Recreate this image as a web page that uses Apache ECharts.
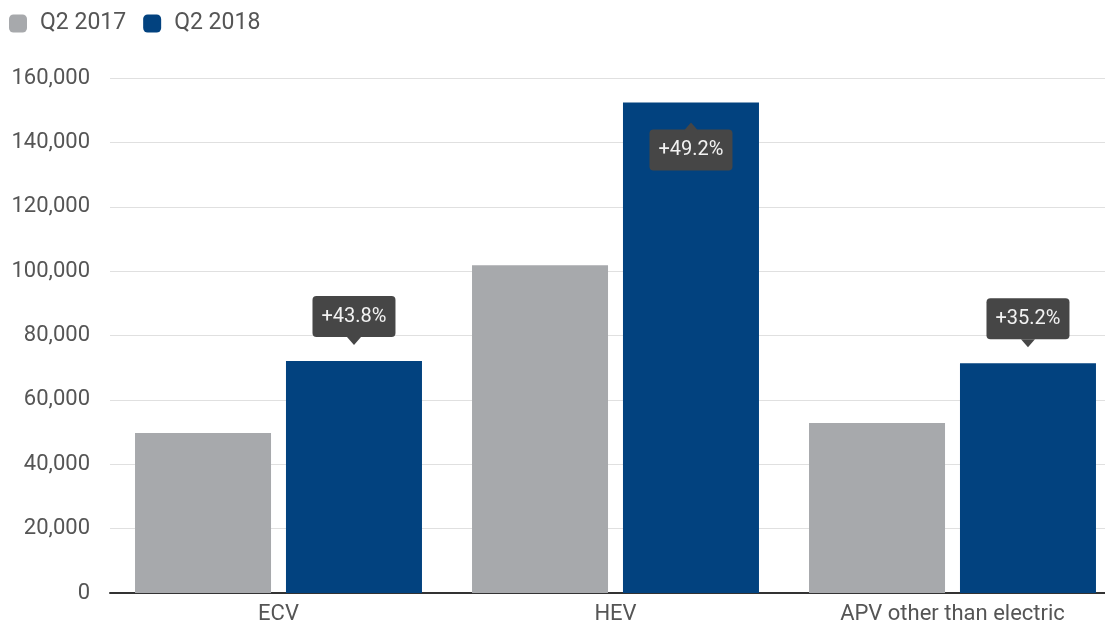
<!DOCTYPE html>
<html>
<head>
<meta charset="utf-8">
<script src="https://cdn.jsdelivr.net/npm/echarts@6/dist/echarts.min.js"></script>
<style>
  html, body { margin: 0; padding: 0; background: #fff; }
  #main { width: 1105px; height: 625px; }
</style>
</head>
<body>
<div id="main"></div>
<script>
// categories and values
var categories = ['ECV', 'HEV', 'APV other than electric']
var q2_2017 = [49700, 101800, 52800]
var q2_2018 = [72100, 152400, 71400]
var growth = ['+43.8%', '+49.2%', '+35.2%']
var yTicks = [0, 20000, 40000, 60000, 80000, 100000, 120000, 140000, 160000]

var gray = '#a7a9ac'
var blue = '#02427f'
var boxColor = '#464646'

// the tallest bar gets its callout inside, the others above
var maxVal = Math.max.apply(null, q2_2018)
var data2018 = q2_2018.map(function (v, i) {
  var inside = v === maxVal
  return {
    value: v,
    label: {
      show: true,
      position: inside ? 'insideTop' : 'top',
      distance: inside ? 27 : 24,
      formatter: growth[i],
      color: '#f2f2f2',
      fontSize: 20,
      backgroundColor: boxColor,
      borderRadius: 4,
      padding: [11, 9, 10, 9]
    }
  }
})
// little pointers under / over the callouts
var pointers = q2_2018.map(function (v, i) {
  var inside = v === maxVal
  return {
    coord: [categories[i], v],
    symbolRotate: inside ? 0 : 180,
    symbolOffset: [0, inside ? 24 : -20]
  }
})

var myChart = echarts.init(document.getElementById('main'))
var option = {
  animation: false,
  textStyle: { fontFamily: 'Roboto' },
  legend: {
    left: 4,
    top: 7,
    itemWidth: 18,
    itemHeight: 18,
    itemGap: 17,
    icon: 'roundRect',
    textStyle: { fontSize: 23, color: '#555', padding: [0, 0, 0, 8] },
    data: ['Q2 2017', 'Q2 2018']
  },
  grid: { left: 110, width: 1011, top: 78, bottom: 32, outerBoundsMode: 'none', containLabel: false },
  xAxis: {
    type: 'category',
    data: categories,
    axisTick: { show: false },
    axisLine: { lineStyle: { color: '#333', width: 2 } },
    axisLabel: { fontSize: 22, color: '#555', margin: 10 }
  },
  yAxis: {
    type: 'value',
    min: yTicks[0],
    max: yTicks[yTicks.length - 1],
    interval: yTicks[1] - yTicks[0],
    axisLine: { show: false },
    axisTick: { show: false },
    splitLine: { lineStyle: { color: '#e0e0e0', width: 1 } },
    axisLabel: {
      fontSize: 22,
      color: '#555',
      margin: 20,
      formatter: function (v) { return v.toLocaleString('en-US') }
    }
  },
  series: [
    {
      name: 'Q2 2017',
      type: 'bar',
      data: q2_2017,
      barWidth: 136,
      barGap: '11%',
      color: gray
    },
    {
      name: 'Q2 2018',
      type: 'bar',
      data: data2018,
      barWidth: 136,
      barGap: '11%',
      color: blue,
      markPoint: {
        symbol: 'triangle',
        symbolSize: [14, 8],
        itemStyle: { color: boxColor },
        label: { show: false },
        silent: true,
        data: pointers
      }
    }
  ]
}
myChart.setOption(option)
</script>
</body>
</html>
